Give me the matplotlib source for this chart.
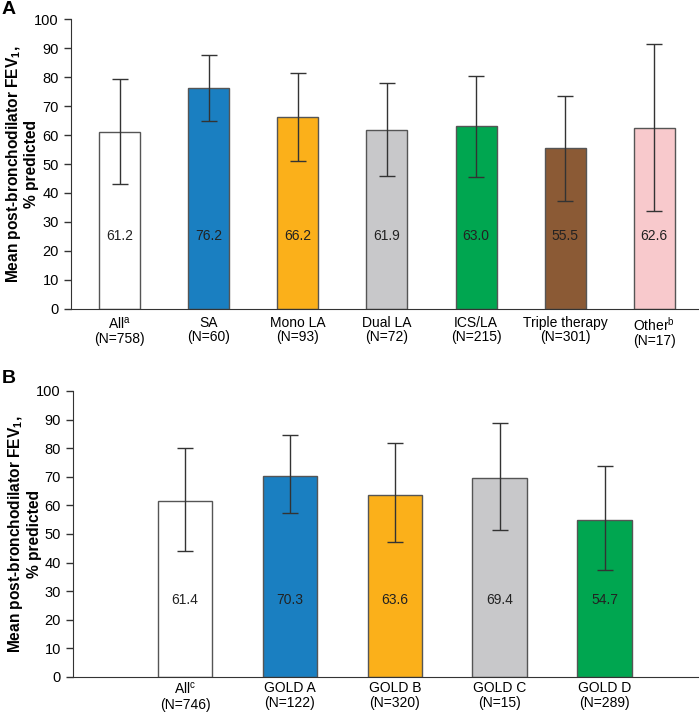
import matplotlib
matplotlib.use('Agg')
import matplotlib.pyplot as plt

plt.rcParams['font.family'] = ['Liberation Sans', 'DejaVu Sans']
plt.rcParams['mathtext.fontset'] = 'custom'
plt.rcParams['mathtext.rm'] = 'Liberation Sans'
plt.rcParams['mathtext.bf'] = 'Liberation Sans:bold'
plt.rcParams['mathtext.it'] = 'Liberation Sans:italic'

# Panel A: by treatment group
labels_a = ['All$^{\\mathrm{a}}$\n(N=758)', 'SA\n(N=60)', 'Mono LA\n(N=93)', 'Dual LA\n(N=72)',
            'ICS/LA\n(N=215)', 'Triple therapy\n(N=301)', 'Other$^{\\mathrm{b}}$\n(N=17)']
means_a = [61.2, 76.2, 66.2, 61.9, 63.0, 55.5, 62.6]
upper_a = [79.4, 87.7, 81.3, 77.9, 80.5, 73.6, 91.4]
lower_a = [43.1, 64.9, 51.1, 46.0, 45.4, 37.1, 33.9]
colors_a = ['#ffffff', '#1a7fc1', '#fbb01a', '#c8c8ca', '#00a650', '#8b5a35', '#f8c9cc']

# Panel B: by GOLD group
labels_b = ['All$^{\\mathrm{c}}$\n(N=746)', 'GOLD A\n(N=122)', 'GOLD B\n(N=320)',
            'GOLD C\n(N=15)', 'GOLD D\n(N=289)']
means_b = [61.4, 70.3, 63.6, 69.4, 54.7]
upper_b = [80.1, 84.7, 81.7, 88.9, 73.9]
lower_b = [44.2, 57.2, 47.1, 51.3, 37.4]
colors_b = ['#ffffff', '#1a7fc1', '#fbb01a', '#c8c8ca', '#00a650']

ylabel = 'Mean post-bronchodilator FEV$_\\mathbf{1}$,\n% predicted'

fig = plt.figure(figsize=(7, 7.14), dpi=100)
ax_a = fig.add_axes([0.101, 0.5675, 0.896, 0.4055])
ax_b = fig.add_axes([0.104, 0.052, 0.893, 0.4004])


def draw(ax, labels, means, upper, lower, colors, width, xlim, text_y, pad):
    x = list(range(len(means)))
    err = [[m - lo for m, lo in zip(means, lower)], [u - m for m, u in zip(means, upper)]]
    ax.bar(x, means, width=width, color=colors, edgecolor='#555555', linewidth=1, zorder=2)
    ax.errorbar(x, means, yerr=err, fmt='none', ecolor='#333333', elinewidth=1,
                capsize=5.5, capthick=1, zorder=3)
    for xi, m in zip(x, means):
        ax.text(xi, text_y, f'{m:.1f}', ha='center', va='center', fontsize=10, color='#222222', zorder=4)
    ax.set_xticks(x)
    ax.set_xticklabels(labels, fontsize=10, linespacing=1.05)
    ax.tick_params(axis='x', length=0, pad=pad)
    ax.tick_params(axis='y', length=5, width=1, labelsize=10.5, color='#333333')
    ax.set_xlim(*xlim)
    ax.set_ylim(0, 100)
    ax.set_yticks(range(0, 101, 10))
    ax.spines['top'].set_visible(False)
    ax.spines['right'].set_visible(False)
    ax.spines['left'].set_color('#333333')
    ax.spines['bottom'].set_color('#333333')
    ax.set_ylabel(ylabel, fontsize=11.2, fontweight='bold', linespacing=1.1)
    ax.yaxis.set_label_coords(-0.05, 0.5)


draw(ax_a, labels_a, means_a, upper_a, lower_a, colors_a, 0.46, (-0.55, 6.49), 25, 5)
draw(ax_b, labels_b, means_b, upper_b, lower_b, colors_b, 0.52, (-1.07, 4.89), 27, 3)

fig.text(0.002, 0.998, 'A', fontsize=14, fontweight='bold', ha='left', va='top')
fig.text(0.002, 0.482, 'B', fontsize=14, fontweight='bold', ha='left', va='top')

fig.savefig('out.png', dpi=100)
